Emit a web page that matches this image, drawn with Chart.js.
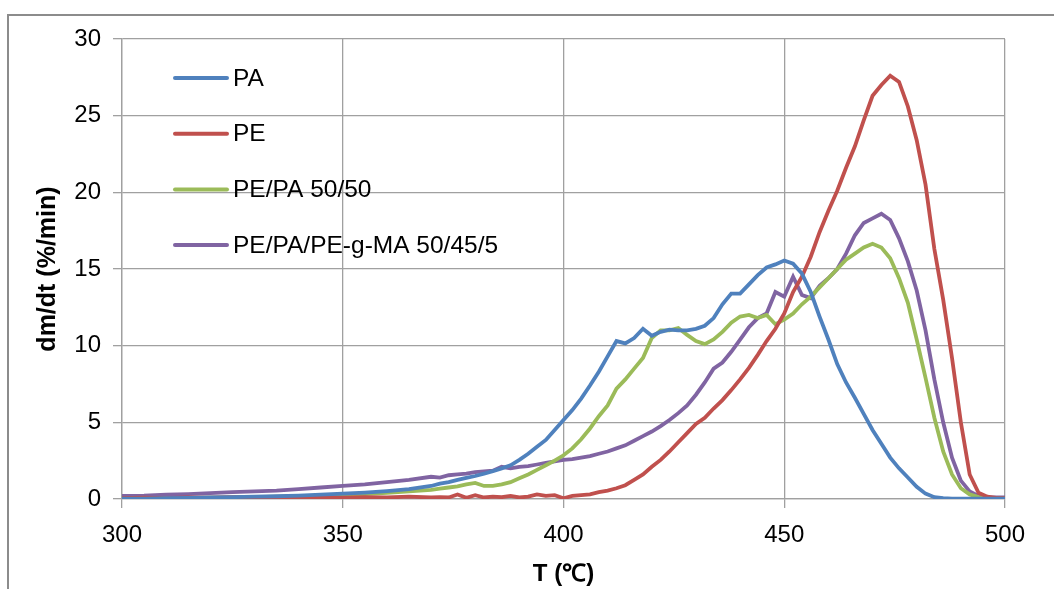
<!DOCTYPE html>
<html>
<head>
<meta charset="utf-8">
<script src="https://cdn.jsdelivr.net/npm/chart.js@4"></script>
<style>
  body { margin: 0; background: #fff; }
  #wrap { position: relative; width: 1054px; height: 589px; overflow: hidden; }
  #frame { position: absolute; left: 7px; top: 14px; width: 1100px; height: 700px;
           border-left: 2px solid #8c8c8c; border-top: 2px solid #8c8c8c; }
  canvas { position: absolute; left: 0; top: 0; }
</style>
</head>
<body>
<div id="wrap">
  <div id="frame"></div>
  <canvas id="dtgChart" width="1054" height="589"></canvas>
</div>
<script>
// temperature (°C)
const temps = [300, 305, 310, 315, 320, 325, 330, 335, 340, 345, 350, 355, 360, 365, 370,
  372, 374, 376, 378, 380, 382, 384, 386, 388, 390, 392, 394, 396, 398, 400,
  402, 404, 406, 408, 410, 412, 414, 416, 418, 420, 422, 424, 426, 428, 430,
  432, 434, 436, 438, 440, 442, 444, 446, 448, 450, 452, 454, 456, 458, 460,
  462, 464, 466, 468, 470, 472, 474, 476, 478, 480, 482, 484, 486, 488, 490,
  492, 494, 496, 498, 500];

// dm/dt (%/min)
const paValues = [0.02, 0.03, 0.05, 0.07, 0.1, 0.12, 0.15, 0.18, 0.22, 0.28, 0.35, 0.42, 0.52, 0.65, 0.85,
  1.0, 1.1, 1.25, 1.38, 1.5, 1.65, 1.82, 2.0, 2.2, 2.55, 2.95, 3.4, 3.85, 4.5, 5.15,
  5.8, 6.55, 7.4, 8.3, 9.3, 10.3, 10.15, 10.5, 11.1, 10.65, 10.9, 11.05, 11.0, 11.0, 11.1,
  11.3, 11.8, 12.7, 13.4, 13.4, 14.0, 14.6, 15.1, 15.3, 15.55, 15.35, 14.7, 13.5, 11.9, 10.4,
  8.8, 7.6, 6.6, 5.55, 4.5, 3.6, 2.7, 2.0, 1.4, 0.8, 0.35, 0.12, 0.05, 0.03, 0.02,
  0.02, 0.02, 0.02, 0.02, 0.02];

const peValues = [0.05, 0.08, 0.05, 0.1, 0.08, 0.12, 0.1, 0.08, 0.12, 0.1, 0.08, 0.12, 0.1, 0.15, 0.1,
  0.12, 0.1, 0.3, 0.08, 0.25, 0.1, 0.15, 0.12, 0.2, 0.1, 0.15, 0.3, 0.2, 0.25, 0.05,
  0.2, 0.25, 0.3, 0.45, 0.55, 0.7, 0.9, 1.25, 1.6, 2.1, 2.55, 3.1, 3.7, 4.3, 4.9,
  5.3, 5.9, 6.45, 7.1, 7.8, 8.55, 9.4, 10.3, 11.1, 12.1, 13.5, 14.5, 15.8, 17.4, 18.8,
  20.1, 21.6, 23.0, 24.7, 26.3, 27.0, 27.6, 27.2, 25.6, 23.4, 20.5, 16.3, 13.0, 9.2, 5.0,
  1.6, 0.4, 0.15, 0.08, 0.05];

const blendValues = [0.0, 0.02, 0.04, 0.06, 0.08, 0.1, 0.12, 0.15, 0.18, 0.22, 0.27, 0.32, 0.4, 0.5, 0.6,
  0.68, 0.75, 0.82, 0.95, 1.05, 0.85, 0.85, 0.95, 1.1, 1.35, 1.6, 1.9, 2.2, 2.5, 2.85,
  3.3, 3.9, 4.6, 5.4, 6.1, 7.2, 7.8, 8.5, 9.2, 10.5, 11.0, 11.0, 11.15, 10.7, 10.3,
  10.1, 10.4, 10.9, 11.5, 11.9, 12.0, 11.8, 12.0, 11.4, 11.7, 12.1, 12.7, 13.2, 13.8, 14.4,
  15.0, 15.6, 16.0, 16.4, 16.65, 16.4, 15.7, 14.4, 12.8, 10.4, 7.9, 5.3, 3.1, 1.6, 0.7,
  0.3, 0.12, 0.06, 0.03, 0.02];

const compatValues = [0.2, 0.22, 0.28, 0.32, 0.38, 0.45, 0.5, 0.55, 0.65, 0.75, 0.85, 0.95, 1.1, 1.25, 1.45,
  1.4, 1.55, 1.6, 1.65, 1.75, 1.8, 1.85, 2.1, 2.0, 2.1, 2.15, 2.25, 2.35, 2.45, 2.55,
  2.6, 2.7, 2.8, 2.95, 3.1, 3.3, 3.5, 3.8, 4.1, 4.4, 4.75, 5.15, 5.6, 6.1, 6.8,
  7.6, 8.5, 8.9, 9.6, 10.4, 11.2, 11.8, 12.1, 13.5, 13.2, 14.5, 13.3, 13.1, 13.9, 14.4,
  15.0, 16.0, 17.2, 18.0, 18.3, 18.6, 18.2, 17.0, 15.5, 13.6, 11.0, 7.8, 5.0, 2.7, 1.2,
  0.5, 0.2, 0.1, 0.1, 0.1];

const seriesLabels = ['PA', 'PE', 'PE/PA 50/50', 'PE/PA/PE-g-MA 50/45/5'];
const seriesColors = ['#4F81BD', '#C0504D', '#9BBB59', '#8064A2'];
const xTicks = [300, 350, 400, 450, 500];
const yTicks = [0, 5, 10, 15, 20, 25, 30];

const FONT = "'Liberation Sans', Arial, sans-serif";
const GRID = '#a0a0a0';

function toPoints(values) {
    return temps.map((t, i) => ({ x: t, y: values[i] }));
}

// легенда внутри области графика
const innerLegend = {
    id: 'innerLegend',
    afterDraw(chart) {
        const ctx = chart.ctx;
        ctx.save();
        ctx.font = `24.5px ${FONT}`;
        ctx.textBaseline = 'middle';
        ctx.lineCap = 'round';
        chart.data.datasets.forEach((ds, i) => {
            const y = 78 + i * 55.7;
            ctx.strokeStyle = ds.borderColor;
            ctx.lineWidth = 4;
            ctx.beginPath();
            ctx.moveTo(175, y);
            ctx.lineTo(227, y);
            ctx.stroke();
            ctx.fillStyle = '#000';
            ctx.fillText(ds.label, 233, y + 1);
        });
        ctx.restore();
    }
};

const datasets = [paValues, peValues, blendValues, compatValues].map((vals, i) => ({
    label: seriesLabels[i],
    data: toPoints(vals),
    borderColor: seriesColors[i],
    backgroundColor: seriesColors[i],
    borderWidth: 3.8,
    pointRadius: 0,
    tension: 0,
    fill: false
}));

new Chart(document.getElementById('dtgChart'), {
    type: 'line',
    data: { datasets },
    options: {
        responsive: false,
        animation: false,
        layout: { padding: { left: 0, top: 39, right: 49, bottom: 0 } },
        plugins: {
            legend: { display: false },
            tooltip: { enabled: false }
        },
        scales: {
            x: {
                type: 'linear',
                min: 300,
                max: 500,
                afterBuildTicks: s => { s.ticks = xTicks.map(v => ({ value: v })); },
                afterFit: s => { s.height = 90; },
                grid: { color: GRID, lineWidth: 1.3, tickLength: 9 },
                border: { color: GRID, width: 1.3 },
                ticks: { color: '#000', padding: 13, font: { family: FONT, size: 24 } },
                title: {
                    display: true,
                    text: 'T (℃)',
                    color: '#000',
                    padding: { top: 0, bottom: 0 },
                    font: { family: FONT, size: 24, weight: 'bold', lineHeight: 1.2 }
                }
            },
            y: {
                min: 0,
                max: 30,
                afterBuildTicks: s => { s.ticks = yTicks.map(v => ({ value: v })); },
                afterFit: s => { s.width = 122; },
                grid: { color: GRID, lineWidth: 1.3, tickLength: 9 },
                border: { color: GRID, width: 1.3 },
                ticks: { color: '#000', padding: 12, font: { family: FONT, size: 24 } },
                title: {
                    display: true,
                    text: 'dm/dt (%/min)',
                    color: '#000',
                    padding: { top: 33, bottom: 0 },
                    font: { family: FONT, size: 25, weight: 'bold', lineHeight: 1.2 }
                }
            }
        }
    },
    plugins: [innerLegend]
});
</script>
</body>
</html>
